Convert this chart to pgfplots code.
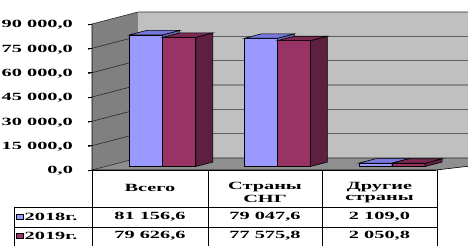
\documentclass[border=0pt]{standalone}
\usepackage{fontspec}
\setmainfont{Liberation Serif}[FakeStretch=1.85]
\usepackage{pgfplots}
\pgfplotsset{compat=1.18}
\definecolor{s18}{HTML}{9999FF}
\definecolor{s18top}{HTML}{7777DD}
\definecolor{s18side}{HTML}{6B6BB3}
\definecolor{s19}{HTML}{993366}
\definecolor{s19top}{HTML}{7A2952}
\definecolor{s19side}{HTML}{5F1F40}
\definecolor{leftwall}{HTML}{808080}
\definecolor{backwall}{HTML}{C0C0C0}
\definecolor{floorc}{HTML}{8F8F8F}
\definecolor{gridc}{HTML}{2A2A2A}
% #1 left x, #2 right x, #3 value, #4 front, #5 top, #6 side colour
\newcommand\cuboid[6]{%
  \addplot3[fill=#4, draw=black, line width=0.6pt, mark=none] coordinates {(#1,0.29,0) (#2,0.29,0) (#2,0.29,#3) (#1,0.29,#3)} -- cycle;
  \addplot3[fill=#6, draw=black, line width=0.6pt, mark=none] coordinates {(#2,0.29,0) (#2,0.66,0) (#2,0.66,#3) (#2,0.29,#3)} -- cycle;
  \addplot3[fill=#5, draw=black, line width=0.6pt, mark=none] coordinates {(#1,0.29,#3) (#2,0.29,#3) (#2,0.66,#3) (#1,0.66,#3)} -- cycle;
}
\newcommand\tf{\fontsize{11}{12}\selectfont\bfseries}
\begin{document}
\begin{tikzpicture}[font=\tf]
\useasboundingbox (0,0) rectangle (468pt,246pt);
\clip (0,0) rectangle (468pt,246pt);
\begin{axis}[
  at={(92pt,76pt)}, anchor=origin,
  x={(114.67pt,0pt)}, y={(46pt,12pt)}, z={(0pt,1.62222pt)},
  xmin=0, xmax=3, ymin=0, ymax=1, zmin=0, zmax=90,
  z filter/.expression={z/1000},
  clip=false,
  axis lines=left, axis line style={-, line width=0.6pt},
  xtick=\empty, ytick=\empty,
  ztick={0,15,30,45,60,75,90},
  zticklabels={{0,0},{15 000,0},{30 000,0},{45 000,0},{60 000,0},{75 000,0},{90 000,0}},
  tick align=outside, major tick length=4pt,
  tick style={black, line width=0.6pt},
  tick label style={font=\tf},
  zticklabel style={anchor=east, inner xsep=15pt},
]
% walls and floor
\fill[leftwall] (axis cs:0,0,0) -- (axis cs:0,1,0) -- (axis cs:0,1,90) -- (axis cs:0,0,90) -- cycle;
\fill[backwall] (axis cs:0,1,0) -- (axis cs:3.5,1,0) -- (axis cs:3.5,1,90) -- (axis cs:0,1,90) -- cycle;
\fill[floorc] (axis cs:0,0,0) -- (axis cs:3,0,0) -- (axis cs:3.5,1,0) -- (axis cs:0,1,0) -- cycle;
\pgfplotsinvokeforeach{0,15,30,45,60,75,90}{%
  \draw[gridc, line width=0.6pt] (axis cs:0,0,#1) -- (axis cs:0,1,#1) -- (axis cs:3.5,1,#1);
}
\draw[black, line width=0.6pt] (axis cs:0,0,90) -- (axis cs:0,0,0) -- (axis cs:3,0,0) -- (axis cs:3.5,1,0);
% bars
\cuboid{0.212}{0.5}{81156.6}{s18}{s18top}{s18side}
\cuboid{0.5}{0.788}{79626.6}{s19}{s19top}{s19side}
\cuboid{1.212}{1.5}{79047.6}{s18}{s18top}{s18side}
\cuboid{1.5}{1.788}{77575.8}{s19}{s19top}{s19side}
\cuboid{2.212}{2.5}{2109.0}{s18}{s18top}{s18side}
\cuboid{2.5}{2.788}{2050.8}{s19}{s19top}{s19side}
\end{axis}
% data table
\begin{scope}[line width=0.6pt]
\draw (14pt,39pt) -- (437pt,39pt);
\draw (14pt,19pt) -- (437pt,19pt);
\draw (14pt,39pt) -- (14pt,0pt);
\draw (92pt,76pt) -- (92pt,0pt);
\draw (208pt,76pt) -- (208pt,0pt);
\draw (322pt,76pt) -- (322pt,0pt);
\draw (437pt,76pt) -- (437pt,0pt);
\end{scope}
\node at (150pt,58pt) {Всего};
\node at (265pt,59pt) {Страны};
\node at (265pt,47pt) {СНГ};
\node at (379.5pt,59pt) {Другие};
\node at (379.5pt,47pt) {страны};
\draw[fill=s18, line width=0.6pt] (16pt,27pt) rectangle (23pt,32pt);
\draw[fill=s19, line width=0.6pt] (16pt,7.5pt) rectangle (23pt,12.5pt);
\node[anchor=west, inner sep=0pt] at (24.5pt,29.5pt) {2018г.};
\node[anchor=west, inner sep=0pt] at (24.5pt,10pt) {2019г.};
\node at (150pt,29.5pt) {81 156,6};
\node at (265pt,29.5pt) {79 047,6};
\node at (379.5pt,29.5pt) {2 109,0};
\node at (150pt,10pt) {79 626,6};
\node at (265pt,10pt) {77 575,8};
\node at (379.5pt,10pt) {2 050,8};
\end{tikzpicture}
\end{document}
